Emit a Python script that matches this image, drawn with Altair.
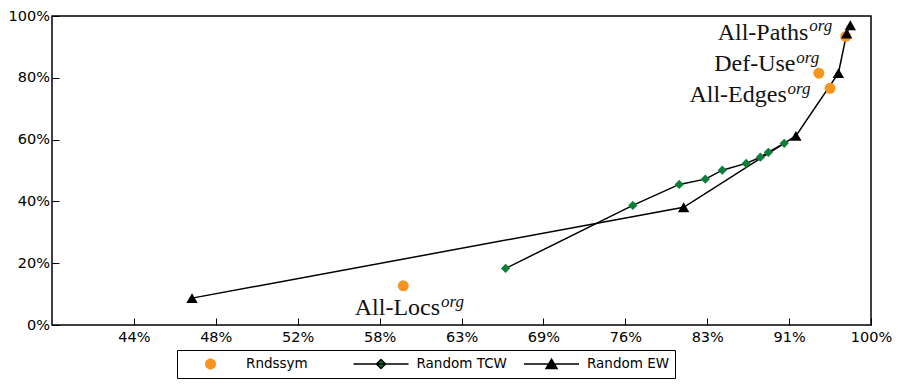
import altair as alt
import pandas as pd

# ---- data (percent values) ----
rnd_names = ["All-Locs", "Def-Use", "All-Edges", "All-Paths"]
rnd_x = [59.1, 94.3, 95.5, 97.2]
rnd_y = [12.7, 81.5, 76.6, 93.4]

tcw_x = [66.3, 76.5, 80.6, 83.0, 84.6, 86.9, 88.3, 89.1, 90.7]
tcw_y = [18.3, 38.7, 45.5, 47.2, 50.1, 52.3, 54.3, 55.9, 58.8]

ew_x = [46.6, 81.0, 91.9, 96.4, 97.3, 97.7]
ew_y = [8.7, 38.1, 61.2, 81.5, 94.3, 97.0]

series_names = ["Rndssym", "Random TCW", "Random EW"]
x_ticks = [43.65, 47.86, 52.48, 57.54, 63.10, 69.18, 75.86, 83.18, 91.20, 100.0]
y_ticks = [0, 20, 40, 60, 80, 100]
x_domain = [39.81, 100.0]
y_domain = [0, 100]

# ---- tables ----
rnd_df = pd.DataFrame({"x": rnd_x, "y": rnd_y, "name": rnd_names, "series": "Rndssym", "i": range(len(rnd_x))})
tcw_df = pd.DataFrame({"x": tcw_x, "y": tcw_y, "series": "Random TCW", "i": range(len(tcw_x))})
ew_df = pd.DataFrame({"x": ew_x, "y": ew_y, "series": "Random EW", "i": range(len(ew_x))})
all_df = pd.concat([rnd_df[["x", "y", "series"]], tcw_df[["x", "y", "series"]], ew_df[["x", "y", "series"]]])

ORANGE = "#F7941D"
GREEN = "#0E7F3B"

xscale = alt.Scale(type="log", domain=x_domain, nice=False)
yscale = alt.Scale(domain=y_domain, nice=False)

x_axis = alt.Axis(values=x_ticks, labelExpr="format(datum.value, '.0f') + '%'",
                  title=None, grid=False, domain=False,
                  tickSize={"expr": "-7"}, labelPadding=12, tickColor="black",
                  tickWidth=1, labelFont="DejaVu Sans", labelFontSize=14.5,
                  labelColor="black", labelFlush=False)
y_axis = alt.Axis(values=y_ticks, labelExpr="datum.value + '%'",
                  title=None, grid=False, domain=False,
                  tickSize={"expr": "-7"}, labelPadding=9.5, tickColor="black",
                  tickWidth=1, labelFont="DejaVu Sans", labelFontSize=14.5,
                  labelColor="black", labelFlush=False)

X = alt.X("x:Q", scale=xscale, axis=x_axis)
Y = alt.Y("y:Q", scale=yscale, axis=y_axis)

ew_line = alt.Chart(ew_df).mark_line(color="black", strokeWidth=1.5).encode(
    x=X, y=Y, order="i:Q")
tcw_line = alt.Chart(tcw_df).mark_line(color="black", strokeWidth=1.5).encode(
    x=X, y=Y, order="i:Q")
tcw_pts = alt.Chart(tcw_df).mark_point(shape="diamond", filled=True, color=GREEN,
                                       opacity=1, size=85).encode(x=X, y=Y)
rnd_pts = alt.Chart(rnd_df).mark_point(shape="circle", filled=True, color=ORANGE,
                                       opacity=1, size=120).encode(x=X, y=Y)
ew_pts = alt.Chart(ew_df).mark_point(shape="triangle-up", filled=True, color="black",
                                     opacity=1, size=130).encode(x=X, y=Y)

# ---- labels (main text + italic superscript) ----
label_offsets = {
    "All-Locs": (36.7, 29.0, 37.7, 21.0),
    "Def-Use": (-23.3, -2.0, -22.6, -10.0),
    "All-Edges": (-43.3, 13.4, -42.5, 5.4),
    "All-Paths": (-37.4, 3.3, -36.4, -5.0),
}
label_layers = []
for nm, (mdx, mdy, sdx, sdy) in label_offsets.items():
    base = alt.Chart(rnd_df).transform_filter(alt.datum.name == nm)
    label_layers.append(base.mark_text(align="right", baseline="alphabetic", dx=mdx, dy=mdy,
                                       font="Liberation Serif", fontSize=24, color="#111111")
                        .encode(x=X, y=Y, text="name:N"))
    label_layers.append(base.mark_text(align="left", baseline="alphabetic", dx=sdx, dy=sdy,
                                       font="Liberation Serif", fontStyle="italic", fontSize=17,
                                       color="#111111")
                        .encode(x=X, y=Y, text=alt.value("org")))

# ---- legend-only layer ----
circle_path = "M-0.2,0A0.2,0.2,0,1,0,0.2,0A0.2,0.2,0,1,0,-0.2,0Z"
tcw_path = "M-1,0L1,0M0,-0.165L0.165,0L0,0.165L-0.165,0Z"
ew_path = "M-1,0L1,0M0,-0.175L0.2,0.165L-0.2,0.165Z"

legend = alt.Legend(title=None, orient="none", legendX=125, legendY=334,
                    direction="horizontal", columns=3, gridAlign="all",
                    columnPadding=15.5, padding=5, strokeColor="black",
                    fillColor="white", cornerRadius=0, clipHeight=18,
                    labelFont="DejaVu Sans", labelFontSize=13.5, labelColor="black",
                    labelOffset=7, symbolSize=3025, symbolStrokeWidth=1.5,
                    symbolOpacity=1)

legend_layer = alt.Chart(all_df).mark_point(filled=True, opacity=0).encode(
    x=X, y=Y,
    color=alt.Color("series:N", scale=alt.Scale(domain=series_names,
                                                range=[ORANGE, GREEN, "black"]),
                    legend=legend),
    shape=alt.Shape("series:N", scale=alt.Scale(domain=series_names,
                                                range=[circle_path, tcw_path, ew_path]),
                    legend=legend),
    stroke=alt.Stroke("series:N", scale=alt.Scale(domain=series_names,
                                                  range=["transparent", "black", "black"]),
                      legend=legend),
)

chart = alt.layer(
    legend_layer, ew_line, tcw_line, tcw_pts, rnd_pts, ew_pts, *label_layers
).properties(
    width=819, height=309,
    autosize=alt.AutoSizeParams(type="none"),
    padding={"left": 44, "top": 8, "right": 21, "bottom": 54},
).configure(
    background="white"
).configure_view(
    stroke="black", strokeWidth=1.5
)

chart.save("out.html", embed_options={"renderer": "svg", "actions": False})
